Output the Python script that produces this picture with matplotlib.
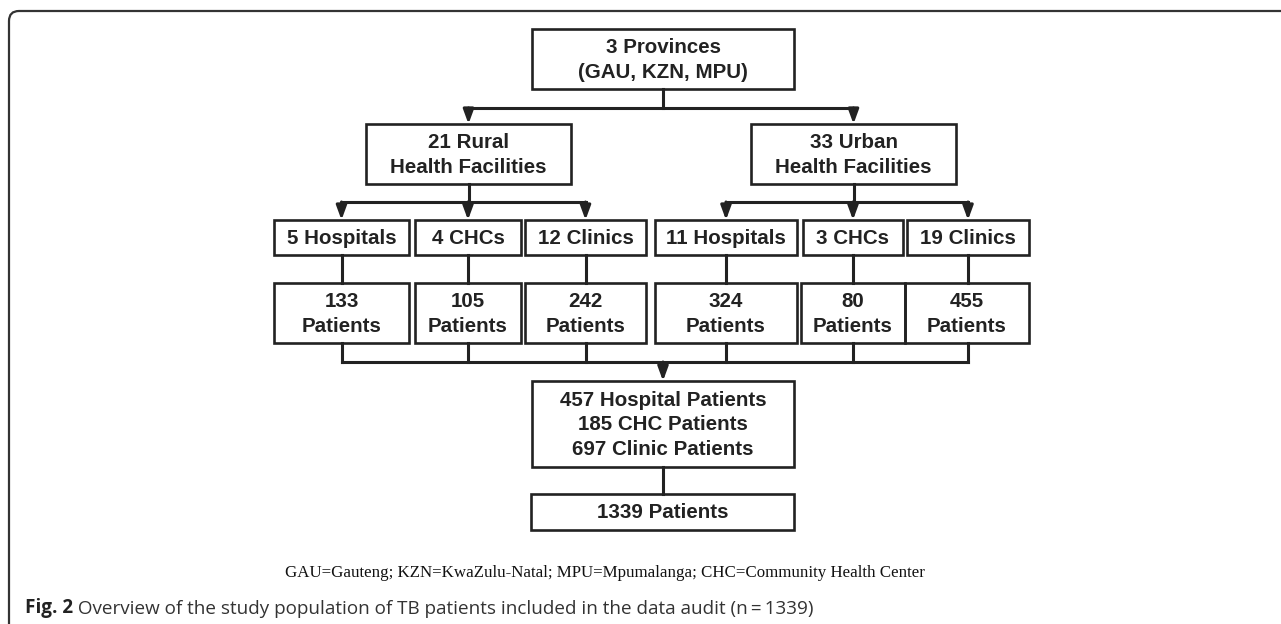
import matplotlib
matplotlib.use('Agg')
import matplotlib.pyplot as plt
from matplotlib.patches import Rectangle, PathPatch
from matplotlib.path import Path

# data
provinces = ['GAU', 'KZN', 'MPU']
settings = ['Rural', 'Urban']
setting_facilities = [21, 33]
facility_types = ['Hospitals', 'CHCs', 'Clinics']
facility_counts = [[5, 4, 12], [11, 3, 19]]
patient_counts = [[133, 105, 242], [324, 80, 455]]
summary_types = ['Hospital', 'CHC', 'Clinic']
summary_counts = [457, 185, 697]
total_patients = 1339
footnote = 'GAU=Gauteng; KZN=KwaZulu-Natal; MPU=Mpumalanga; CHC=Community Health Center'
caption_label = 'Fig. 2'
caption_text = ' Overview of the study population of TB patients included in the data audit (n\u2009=\u20091339)'

# layout (pixels, y downward)
W, H = 1281, 624
top_box = (532, 794, 29, 89)
setting_boxes = [(366, 571, 124, 184), (751, 956, 124, 184)]
lvl3_x = [(274, 409), (415, 521), (525, 646), (655, 797), (803, 903), (907, 1029)]
lvl3_y = (220, 255)
lvl4_x = [(274, 409), (415, 521), (525, 646), (655, 797), (801, 905), (905, 1029)]
lvl4_y = (283, 343)
summary_box = (532, 794, 381, 467)
total_box = (531, 794, 494, 530)
y_split1, y_split2, y_join = 108, 202, 362

INK = '#222222'
BOX_LW = 1.9
CON_LW = 2.2
FS = 14.8
BOXFONT = dict(family='Liberation Sans', weight='bold', size=FS, color=INK)

fig = plt.figure(figsize=(W / 100, H / 100), dpi=100)
ax = fig.add_axes([0, 0, 1, 1])
ax.set_xlim(0, W)
ax.set_ylim(H, 0)
ax.axis('off')


def box(b, text, ls=1.38):
    x0, x1, y0, y1 = b
    ax.add_patch(Rectangle((x0, y0), x1 - x0, y1 - y0, fill=False,
                           ec=INK, lw=BOX_LW, zorder=3))
    ax.text((x0 + x1) / 2, (y0 + y1) / 2 + 1, text, ha='center', va='center',
            linespacing=ls, **BOXFONT)


def line(xs, ys):
    ax.plot(xs, ys, color=INK, lw=CON_LW, solid_capstyle='projecting', zorder=2)


def arrow(x, y0, y1):
    ax.annotate('', xy=(x, y1), xytext=(x, y0),
                arrowprops=dict(arrowstyle='-|>,head_length=0.6,head_width=0.22',
                                color=INK, lw=CON_LW, shrinkA=0, shrinkB=0,
                                mutation_scale=14), zorder=2)


def cx(b):
    return (b[0] + b[1]) / 2


# frame with rounded top-left corner
r = 10
verts = [(9, H + 5), (9, 11 + r), (9, 11), (9 + r, 11), (W + 5, 11)]
codes = [Path.MOVETO, Path.LINETO, Path.CURVE3, Path.CURVE3, Path.LINETO]
ax.add_patch(PathPatch(Path(verts, codes), fill=False, ec='#333333', lw=1.6))

# top
box(top_box, '3 Provinces\n(' + ', '.join(provinces) + ')')
line([cx(top_box)] * 2, [top_box[3], y_split1])
line([cx(setting_boxes[0]), cx(setting_boxes[1])], [y_split1] * 2)

join_x = []
for s, name in enumerate(settings):
    sb = setting_boxes[s]
    arrow(cx(sb), y_split1, sb[2])
    box(sb, f'{setting_facilities[s]} {name}\nHealth Facilities')
    line([cx(sb)] * 2, [sb[3], y_split2])
    xs3 = [cx(lvl3_x[s * 3 + k]) for k in range(3)]
    line([xs3[0], xs3[-1]], [y_split2] * 2)
    for k in range(3):
        i = s * 3 + k
        x = xs3[k]
        arrow(x, y_split2, lvl3_y[0])
        box((*lvl3_x[i], *lvl3_y), f'{facility_counts[s][k]} {facility_types[k]}')
        line([x, x], [lvl3_y[1], lvl4_y[0]])
        box((*lvl4_x[i], *lvl4_y), f'{patient_counts[s][k]}\nPatients')
        line([x, x], [lvl4_y[1], y_join])
        join_x.append(x)

line([min(join_x), max(join_x)], [y_join] * 2)
arrow(cx(summary_box), y_join, summary_box[2])
box(summary_box, '\n'.join(f'{n} {t} Patients' for n, t in zip(summary_counts, summary_types)),
    ls=1.34)
line([cx(summary_box)] * 2, [summary_box[3], total_box[2]])
box(total_box, f'{total_patients} Patients')

# footnote and caption
ax.text(605, 573, footnote, ha='center', va='center', family='Liberation Serif',
        size=12.2, color='#111111')
t1 = ax.text(25, 608, caption_label, ha='left', va='center', family='Open Sans',
             weight='bold', size=13.6, color='#222222')
ax.annotate(caption_text, xy=(1, 0), xycoords=t1, ha='left', va='bottom',
            family='Open Sans', size=13.6, color='#333333')

fig.savefig('out.png', dpi=100)
